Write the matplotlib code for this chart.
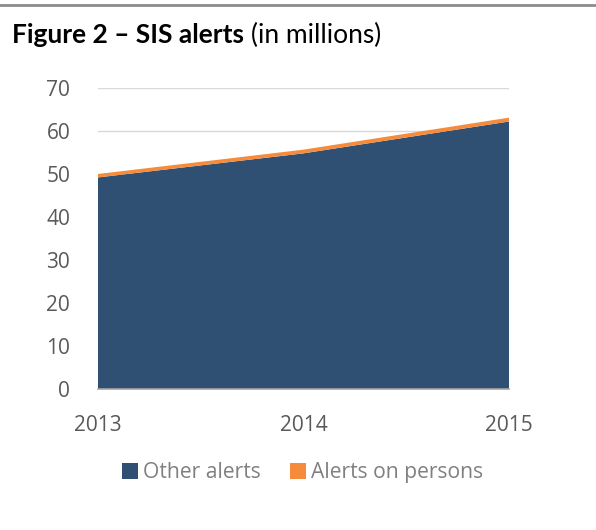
import matplotlib.pyplot as plt
from matplotlib.lines import Line2D
from matplotlib.patches import Patch

years = [2013, 2014, 2015]
other_alerts = [49.2, 54.8, 62.2]
alerts_on_persons = [0.8, 0.86, 0.9]
series_names = ["Other alerts", "Alerts on persons"]
colors = ["#2f5072", "#f58b3b"]

plt.rcParams['font.family'] = ['Open Sans', 'DejaVu Sans']

fig = plt.figure(figsize=(5.96, 5.30), dpi=100)
ax = fig.add_axes([0.1644, 0.266, 0.6896, 0.568])

ax.stackplot(years, other_alerts, alerts_on_persons, colors=colors, linewidth=0)

ax.set_xlim(2013, 2015)
ax.set_ylim(0, 70)
ax.set_yticks(range(0, 71, 10))
ax.set_xticks(years)
ax.yaxis.grid(True, color="#d9d9d9", linewidth=1)
ax.set_axisbelow(True)
for s in ["top", "right", "left"]:
    ax.spines[s].set_visible(False)
ax.spines["bottom"].set_color("#a6a6a6")
ax.spines["bottom"].set_linewidth(1.2)
ax.tick_params(length=0, labelsize=15, labelcolor="#595959")
ax.tick_params(axis="y", pad=20)
ax.tick_params(axis="x", pad=19)

# top rule
fig.add_artist(Line2D([0, 1], [0.991, 0.991], color="#8c8c8c", linewidth=2))

t1 = fig.text(0.02, 0.934, "Figure 2 \u2013 SIS alerts", fontsize=19, fontweight="bold",
              family=["Lato", "DejaVu Sans"], color="#000000", va="center", ha="left")
fig.canvas.draw()
bb = t1.get_window_extent().transformed(fig.transFigure.inverted())
fig.text(bb.x1 + 0.012, 0.934, "(in millions)", fontsize=19,
         family=["Lato", "DejaVu Sans"], color="#000000", va="center", ha="left")

handles = [Patch(facecolor=c, edgecolor="none") for c in colors]
fig.legend(handles, series_names, loc="center", bbox_to_anchor=(0.508, 0.108),
           ncol=2, frameon=False, fontsize=15.2, labelcolor="#808080",
           handlelength=0.75, handleheight=0.75, handletextpad=0.25, columnspacing=1.4)

fig.savefig("out.png", dpi=100)
